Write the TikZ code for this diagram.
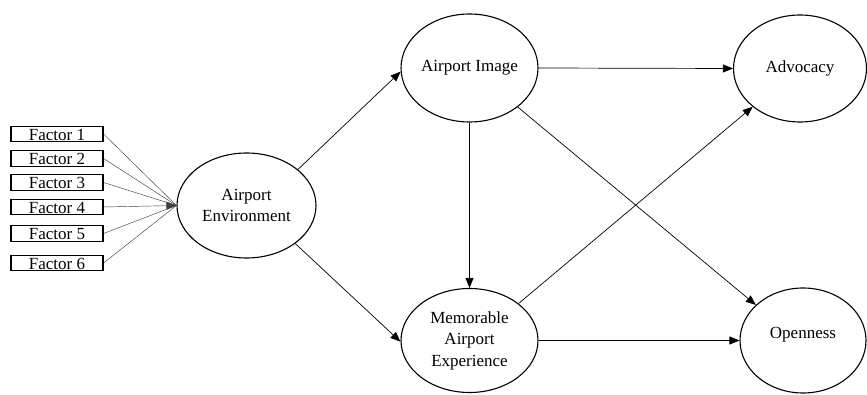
\documentclass[tikz,border=0pt]{standalone}
\usepackage{fontspec}
\setmainfont{Liberation Serif}
\usetikzlibrary{shapes.geometric,arrows.meta}
\begin{document}
\begin{tikzpicture}[x=1pt,y=-1pt,
  lat/.style={ellipse,draw,line width=1.1pt,inner sep=0pt,align=center,font=\fontsize{17}{21.5}\selectfont},
  fbox/.style={draw,line width=1.1pt,minimum width=92pt,minimum height=15.5pt,inner sep=0pt,text height=13.5pt,text depth=1pt,font=\fontsize{17}{20}\selectfont},
  arr/.style={line width=0.7pt,-{Triangle[length=10pt,width=8pt]}},
  fl/.style={line width=0.45pt,draw=black!75}]
\useasboundingbox (0,0) rectangle (867,395);

\node[fbox] (f1) at (57,134) {Factor 1};
\node[fbox] (f2) at (57,158.5) {Factor 2};
\node[fbox] (f3) at (57,182.5) {Factor 3};
\node[fbox] (f4) at (57,207) {Factor 4};
\node[fbox] (f5) at (57,233.5) {Factor 5};
\node[fbox] (f6) at (57,263) {Factor 6};

\node[lat,minimum width=139pt,minimum height=105pt] (AE) at (246.5,205.5) {Airport\\Environment};
\node[lat,minimum width=137pt,minimum height=108pt] (AI) at (469.5,68) {Airport Image};
\node[lat,minimum width=137pt,minimum height=104pt] (MAE) at (469.5,340.5) {Memorable\\Airport\\Experience};
\node[lat,minimum width=133pt,minimum height=107pt] (Adv) at (800,68.5) {Advocacy};
\node[lat,minimum width=126pt,minimum height=105pt] (Op) at (803,340.5) {\raisebox{15pt}{Openness}};

\draw[fl] (f1.east) -- (AE.west);
\draw[fl] (f2.east) -- (AE.west);
\draw[fl] (f3.east) -- (AE.west);
\draw[fl,-{Triangle[length=10pt,width=8pt]}] (f4.east) -- (AE.west);
\draw[fl] (f5.east) -- (AE.west);
\draw[fl] (f6.east) -- (AE.west);

\draw[arr] (AE.35) -- (AI.183);
\draw[arr] (AE.-38) -- (MAE.181);
\draw[arr] (AI.south) -- (MAE.north);
\draw[arr] (AI.east) -- (Adv.west);
\draw[arr] (AI.-39) -- (Op.143);
\draw[arr] (MAE.37) -- (Adv.219);
\draw[arr] (MAE.east) -- (Op.west);
\end{tikzpicture}
\end{document}
